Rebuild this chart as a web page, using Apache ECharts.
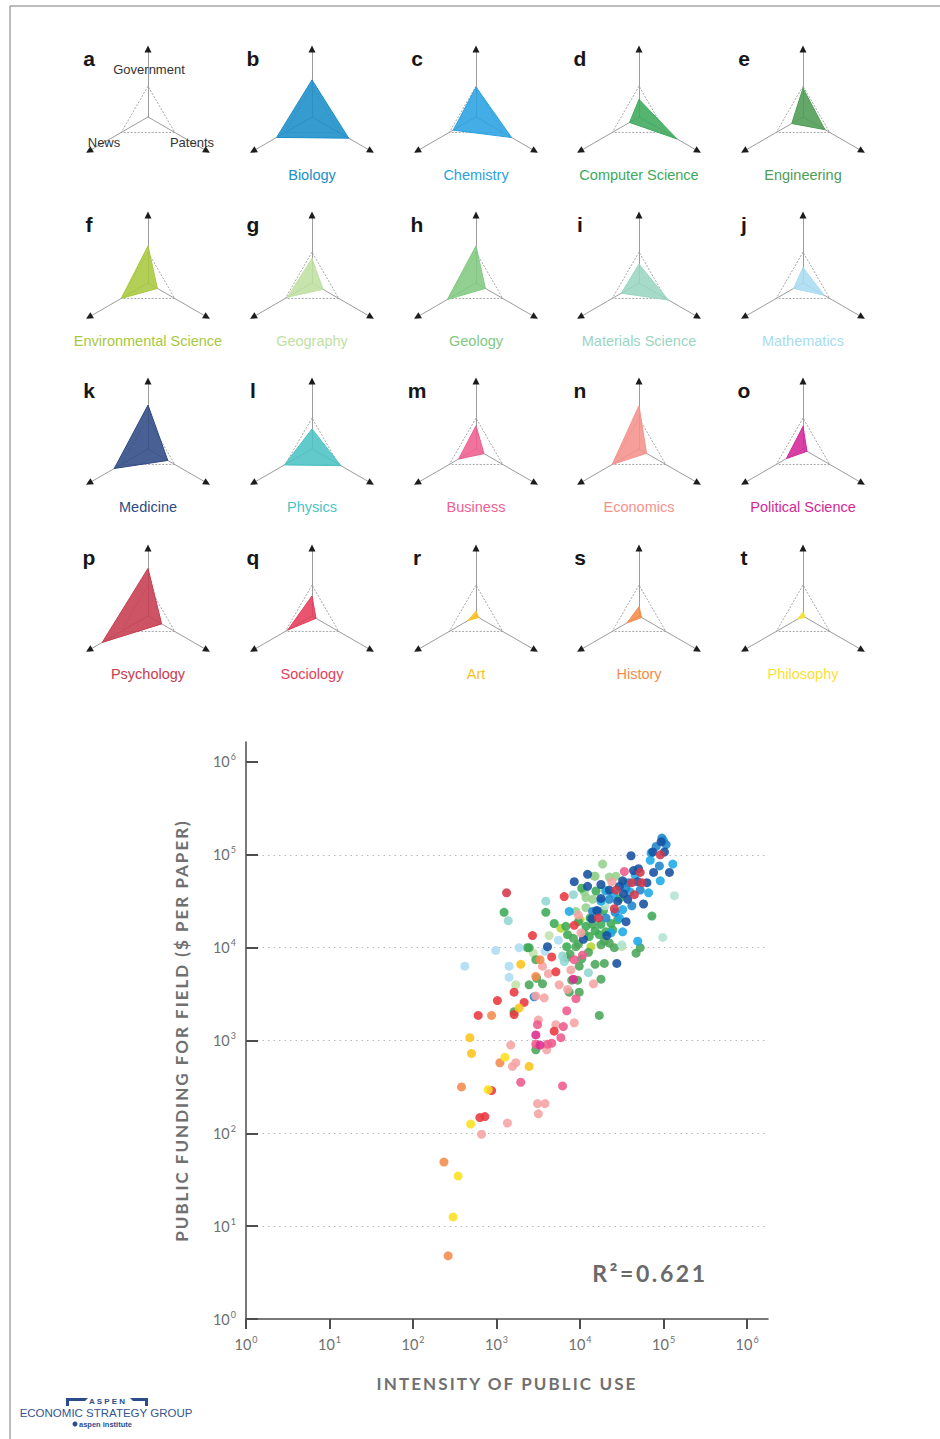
<!DOCTYPE html>
<html><head><meta charset="utf-8">
<script src="https://cdn.jsdelivr.net/npm/echarts@6/dist/echarts.min.js"></script>
<style>html,body{margin:0;padding:0;background:#fff}#c{width:940px;height:1439px}</style>
</head><body><div id="c"></div>
<script>
// ---------- radar (triangle) panels ----------
const radarAxes = ['Government', 'News', 'Patents'];
const panelLetters = ['a','b','c','d','e','f','g','h','i','j','k','l','m','n','o','p','q','r','s','t'];
const fieldNames = ['Biology','Chemistry','Computer Science','Engineering','Environmental Science','Geography','Geology','Materials Science','Mathematics','Medicine','Physics','Business','Economics','Political Science','Psychology','Sociology','Art','History','Philosophy'];
const fieldColors = ['#1a8ec8','#2aa2e2','#3caa5c','#4d9c54','#a8c83e','#c0e0a2','#82c982','#9ad6c2','#a8dcf0','#2f4a84','#4cc3c3','#ef5f8f','#f5928c','#d42898','#c63c4e','#e63e5a','#f8c21e','#f68c4a','#fbe034'];
// values relative to the reference triangle (= 1)
const govValues     = [1.20,0.97,0.57,0.93,1.20,0.80,1.20,0.61,0.50,1.42,0.65,0.75,1.40,0.73,1.54,0.65,0.15,0.30,0.13];
const newsValues    = [1.32,0.85,0.35,0.42,1.00,0.92,1.07,0.66,0.35,1.26,1.03,0.65,1.00,0.62,1.71,0.91,0.30,0.45,0.20];
const patentValues  = [1.37,1.33,1.42,0.82,0.35,0.41,0.35,1.10,0.79,0.74,1.08,0.30,0.28,0.15,0.51,0.15,0.10,0.10,0.08];
const axisMax = 2.2;

// ---------- scatter (log10 exponents: [use, funding]) ----------
const decadeTicks = [1, 10, 100, 1000, 10000, 100000, 1000000];
const dotColors = {
  'Medicine':'#1650a0','Biology':'#1e86cc','Chemistry':'#1ba9e6','Physics':'#93d7d2','Materials Science':'#b3e2d2',
  'Mathematics':'#acdcf1','Computer Science':'#3aab55','Engineering':'#4aa65a','Geology':'#94d28c','Geography':'#bfe3a8',
  'Environmental Science':'#bad634','Psychology':'#d4374a','Sociology':'#e9383f','Business':'#ee5a8c','Political Science':'#dc2a8f',
  'Economics':'#f5a3a4','History':'#f58a4c','Art':'#fbc41a','Philosophy':'#fde020'
};
const medicinePts = [[4.97,5.14],[4.87,5.03],[5.01,5.03],[4.61,4.99],[4.64,4.83],[4.88,4.81],[5.07,4.81],[4.09,4.79],[3.93,4.71],[4.25,4.68],[4.51,4.72],[4.69,4.71],[4.09,4.66],[4.47,4.66],[4.25,4.53],[4.57,4.52],[4.76,4.47],[4.14,4.31],[4.55,4.28],[3.61,4.01],[4.44,3.83],[4.04,4.09],[4.32,4.13],[4.45,4.50],[4.35,4.62],[4.70,4.85],[4.20,4.40],[4.52,4.58],[4.80,4.70]];
const biologyPts = [[5.03,5.11],[4.91,5.09],[4.95,4.88],[4.15,4.39],[3.45,3.47],[4.31,4.32],[4.55,4.64],[4.35,4.52],[4.21,4.39],[4.98,5.18],[4.62,4.45],[4.42,4.38],[4.58,4.70],[4.72,4.62]];
const chemistryPts = [[4.84,4.94],[5.11,4.90],[4.96,4.72],[4.31,4.61],[4.82,4.59],[4.51,4.41],[3.87,4.39],[4.47,4.32],[4.51,4.17],[4.69,4.07],[4.37,4.16],[5.00,5.15],[4.40,4.58],[4.60,4.60],[4.25,4.50],[4.66,4.78],[4.85,5.02]];
const physicsPts = [[3.92,4.57],[3.59,4.50],[3.14,4.29],[3.81,3.85],[4.10,3.73],[3.79,3.91]];
const materialsPts = [[5.13,4.56],[4.99,4.11],[4.50,4.03],[4.30,4.45]];
const mathematicsPts = [[2.99,3.97],[3.27,4.00],[3.74,4.08],[2.62,3.80],[3.15,3.80],[3.15,3.68],[3.58,3.96]];
const computerSciencePts = [[4.02,4.64],[4.19,4.61],[4.47,4.53],[3.09,4.38],[3.59,4.38],[4.86,4.34],[3.69,4.26],[3.83,4.23],[4.07,4.23],[4.25,4.25],[4.37,4.26],[3.85,4.14],[4.11,4.12],[4.23,4.14],[4.31,4.17],[4.39,4.19],[3.37,4.00],[3.84,4.01],[4.12,4.32],[4.28,4.40],[3.98,4.28],[4.18,4.18],[4.45,4.30]];
const engineeringPts = [[3.95,4.01],[4.25,4.03],[4.41,4.00],[4.67,3.94],[3.47,3.87],[4.18,3.82],[4.29,3.83],[3.99,3.80],[3.48,3.67],[3.97,3.65],[4.25,3.66],[3.39,3.60],[3.55,3.61],[3.87,3.52],[3.99,3.52],[3.21,3.31],[4.23,3.27],[3.47,2.90],[3.88,3.93],[3.98,4.04],[3.39,4.00],[4.72,4.00],[4.29,4.07],[3.90,3.65],[3.84,3.89],[4.05,4.15],[4.15,4.25],[3.92,4.10],[4.10,3.95],[4.35,4.05],[4.02,3.88]];
const geologyPts = [[4.27,4.90],[4.18,4.77],[4.35,4.76],[4.43,4.77],[4.15,4.52],[3.95,4.39],[4.07,4.43],[4.17,4.77],[4.07,4.54],[4.30,4.62],[4.52,4.70],[4.05,4.60]];
const geographyPts = [[3.63,4.13],[3.23,3.60],[4.50,4.01],[3.44,3.94]];
const envSciencePts = [[3.77,4.21],[4.13,4.01],[4.00,4.30]];
const psychologyPts = [[3.12,4.59],[4.96,5.00],[4.72,4.81],[4.62,4.70],[4.74,4.70],[4.43,4.62],[4.65,4.57],[4.41,4.42],[4.22,4.32]];
const sociologyPts = [[3.81,4.55],[3.93,4.24],[3.43,4.13],[3.66,3.90],[3.71,3.74],[3.21,3.52],[3.01,3.43],[3.33,3.41],[3.21,3.28],[2.78,3.27],[3.69,3.10],[2.94,2.46],[2.80,2.17],[2.86,2.18]];
const businessPts = [[4.53,4.82],[4.03,3.92],[3.93,3.87],[3.95,3.45],[3.84,3.32],[3.49,3.17],[3.80,3.15],[3.77,3.03],[3.47,2.96],[3.61,2.96],[3.66,2.97],[3.29,2.55],[3.79,2.51]];
const politicalSciencePts = [[3.92,3.66],[3.47,3.06],[3.52,2.95]];
const economicsPts = [[4.38,4.71],[3.98,4.35],[4.01,4.16],[3.55,3.80],[3.89,3.76],[3.75,3.60],[4.16,3.61],[3.47,3.48],[3.57,3.46],[3.71,3.17],[3.93,3.19],[3.50,3.22],[3.17,2.95],[3.60,2.90],[3.23,2.76],[3.19,2.72],[3.49,2.32],[3.58,2.32],[3.50,2.21],[3.13,2.11],[2.82,1.99],[3.62,3.72],[3.85,3.55]];
const historyPts = [[3.52,3.87],[3.47,3.69],[2.94,3.27],[3.04,2.76],[2.58,2.50],[2.37,1.69],[2.42,0.68]];
const artPts = [[3.29,3.82],[3.27,3.35],[2.68,3.03],[2.70,2.86],[3.39,2.72]];
const philosophyPts = [[3.10,2.82],[2.90,2.47],[2.69,2.10],[2.54,1.54],[2.48,1.10]];
const rSquaredText = 'R\u00b2=0.621';
const xAxisTitle = 'INTENSITY OF PUBLIC USE';
const yAxisTitle = 'PUBLIC FUNDING FOR FIELD ($ PER PAPER)';

const scatterGroups = [
  ['Geography', geographyPts], ['Geology', geologyPts], ['Environmental Science', envSciencePts],
  ['Engineering', engineeringPts], ['Computer Science', computerSciencePts],
  ['Mathematics', mathematicsPts], ['Physics', physicsPts], ['Materials Science', materialsPts],
  ['Chemistry', chemistryPts], ['Biology', biologyPts], ['Medicine', medicinePts],
  ['Economics', economicsPts], ['Business', businessPts], ['Political Science', politicalSciencePts],
  ['Sociology', sociologyPts], ['Psychology', psychologyPts],
  ['History', historyPts], ['Art', artPts], ['Philosophy', philosophyPts]
];

// ---------- layout ----------
const colX = [148, 312, 476, 639, 803];
const rowY = [117, 283, 449, 616];
const R = 68;
const ringColors = [];
for (let i = 0; i < 12; i++) ringColors.push(i === 5 ? '#a8a8a8' : 'rgba(0,0,0,0)');

const radars = [], series = [], graphics = [];
const ind = radarAxes.map(n => ({ name: n, min: 0, max: axisMax }));
for (let p = 0; p < 20; p++) {
  const cx = colX[p % 5], cy = rowY[Math.floor(p / 5)];
  radars.push({
    center: [cx, cy], radius: R, startAngle: 90, shape: 'polygon', splitNumber: 11,
    indicator: ind, axisName: { show: false },
    axisLine: { lineStyle: { color: '#9c9c9c', width: 1 } },
    splitLine: { lineStyle: { color: ringColors, width: 1, type: [2, 1.5] } },
    splitArea: { show: false }, axisTick: { show: false }, axisLabel: { show: false }
  });
  radars.push({
    center: [cx, cy], radius: R, startAngle: 90, shape: 'polygon', splitNumber: 11,
    indicator: ind, axisName: { show: false },
    axisLine: { symbol: ['none', 'triangle'], symbolSize: [7, 7], lineStyle: { color: '#1c1c1c', width: 0 } },
    splitLine: { show: false }, splitArea: { show: false }, axisTick: { show: false }, axisLabel: { show: false }
  });
  graphics.push({ type: 'text', x: cx - 59, y: cy - 59, z: 10,
    style: { text: panelLetters[p], font: 'bold 21px "Liberation Sans", Arial, sans-serif', fill: '#161616', align: 'center', verticalAlign: 'middle', textAlign: 'center', textVerticalAlign: 'middle' } });
  if (p > 0) {
    const f = p - 1;
    series.push({
      type: 'radar', radarIndex: 2 * p, symbol: 'none', silent: true, z: 3,
      lineStyle: { color: fieldColors[f], width: 1 },
      areaStyle: { color: fieldColors[f], opacity: 0.88 },
      data: [{ name: fieldNames[f], value: [govValues[f], newsValues[f], patentValues[f]] }]
    });
    graphics.push({ type: 'text', x: cx, y: cy + 58, z: 10,
      style: { text: fieldNames[f], font: '14.5px "Liberation Sans", Arial, sans-serif', fill: fieldColors[f], align: 'center', verticalAlign: 'middle', textAlign: 'center', textVerticalAlign: 'middle' } });
  }
}
// panel a axis labels
const lbl = (t, x, y) => ({ type: 'text', x, y, z: 10, style: { text: t, font: '13px "Liberation Sans", Arial, sans-serif', fill: '#333', align: 'center', verticalAlign: 'middle', textAlign: 'center', textVerticalAlign: 'middle' } });
graphics.push(lbl(radarAxes[0], 149, 69), lbl(radarAxes[1], 104, 142), lbl(radarAxes[2], 192, 142));

scatterGroups.forEach(([name, pts]) => {
  series.push({
    type: 'scatter', name, xAxisIndex: 0, yAxisIndex: 0, symbolSize: 9, silent: true, z: 5,
    itemStyle: { color: dotColors[name], opacity: 0.88 },
    data: pts.map(d => [Math.pow(10, d[0]), Math.pow(10, d[1])])
  });
});

const decadeLabel = v => {
  const e = Math.log10(v), r = Math.round(e);
  if (Math.abs(e - r) > 1e-6) return '';
  return '{b|10}{s|' + r + '}';
};
const richLbl = { b: { fontSize: 14.5, fontFamily: 'Lato', color: '#6e6e6e' }, s: { fontSize: 9, fontFamily: 'Lato', color: '#6e6e6e', padding: [0, 0, 10, 1] } };
const nameStyle = { fontFamily: 'Lato', fontSize: 17, fontWeight: 'bold', color: '#707070' };

// border + R^2 + logo
graphics.push(
  { type: 'line', shape: { x1: 10, y1: 6, x2: 940, y2: 6 }, style: { stroke: '#7a7a7a', lineWidth: 1 } },
  { type: 'line', shape: { x1: 10, y1: 6, x2: 10, y2: 1439 }, style: { stroke: '#7a7a7a', lineWidth: 1 } },
  { type: 'text', x: 650, y: 1273, z: 10, style: { text: rSquaredText, font: 'bold 23px Lato', fill: '#6a6a6a', align: 'center', verticalAlign: 'middle', textAlign: 'center', textVerticalAlign: 'middle' } },
  { type: 'polygon', shape: { points: [[66, 1398], [88, 1398], [85, 1401], [69, 1401], [69, 1406], [66, 1406]] }, style: { fill: '#2b4d8c' } },
  { type: 'polygon', shape: { points: [[130, 1398], [148, 1398], [148, 1406], [145, 1406], [145, 1401], [133, 1401]] }, style: { fill: '#2b4d8c' } },
  { type: 'text', x: 107, y: 1401, style: { text: 'A S P E N', font: 'bold 8px "Liberation Sans", Arial', fill: '#2b4d8c', align: 'center', verticalAlign: 'middle', textAlign: 'center', textVerticalAlign: 'middle' } },
  { type: 'text', x: 106, y: 1413, style: { text: 'ECONOMIC STRATEGY GROUP', font: '11.5px "Liberation Sans", Arial', fill: '#34558f', align: 'center', verticalAlign: 'middle', textAlign: 'center', textVerticalAlign: 'middle' } },
  { type: 'circle', shape: { cx: 75, cy: 1424, r: 2.5 }, style: { fill: '#2b4d8c' } },
  { type: 'text', x: 79, y: 1424, style: { text: 'aspen institute', font: 'bold 7.5px "Liberation Sans", Arial', fill: '#2b4d8c', align: 'left', verticalAlign: 'middle', textAlign: 'left', textVerticalAlign: 'middle' } }
);

const option = {
  animation: false,
  backgroundColor: '#ffffff',
  radar: radars,
  grid: { left: 246, top: 742, right: 172, bottom: 120, containLabel: false },
  xAxis: {
    type: 'log', logBase: 10, min: 1, max: Math.pow(10, 6.25),
    axisLine: { show: true, lineStyle: { color: '#4d4d4d', width: 1.5 } },
    axisTick: { show: true, inside: false, length: 10, lineStyle: { color: '#4d4d4d', width: 2 }, customValues: decadeTicks },
    axisLabel: { margin: 16, formatter: decadeLabel, rich: richLbl, customValues: decadeTicks },
    splitLine: { show: false },
    name: xAxisTitle, nameLocation: 'middle', nameGap: 56, nameTextStyle: nameStyle
  },
  yAxis: {
    type: 'log', logBase: 10, min: 1, max: Math.pow(10, 6.215),
    axisLine: { show: true, lineStyle: { color: '#4d4d4d', width: 1.5 } },
    axisTick: { show: true, inside: true, length: 12, lineStyle: { color: '#4d4d4d', width: 2 }, customValues: decadeTicks },
    axisLabel: { margin: 10, formatter: decadeLabel, rich: richLbl, customValues: decadeTicks },
    splitLine: { show: true, showMinLine: false, showMaxLine: false, lineStyle: { color: '#b8b8b8', width: 1, type: [1.5, 4] } },
    name: yAxisTitle, nameLocation: 'middle', nameGap: 56, nameRotate: 90, nameTextStyle: nameStyle
  },
  series,
  graphic: { elements: graphics }
};
const chart = echarts.init(document.getElementById('c'), null, { renderer: 'svg', width: 940, height: 1439 });
chart.setOption(option);

// letter-spacing for the spaced captions (pure styling of the rendered text)
function spaceText() {
  const spacing = {};
  spacing[xAxisTitle] = '2.1px';
  spacing[yAxisTitle] = '2px';
  spacing[rSquaredText] = '2.6px';
  document.querySelectorAll('#c svg text').forEach(t => {
    const s = spacing[t.textContent];
    if (s) t.style.letterSpacing = s;
  });
}
spaceText();
chart.on('finished', spaceText);
</script></body></html>
